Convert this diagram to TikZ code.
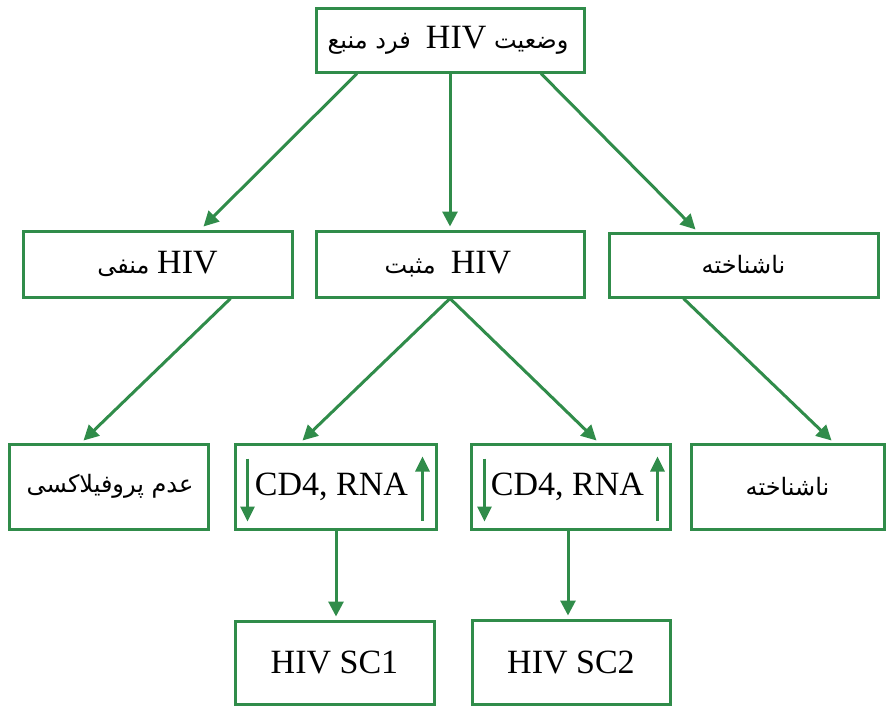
\documentclass[tikz,border=0pt]{standalone}
\usepackage{fontspec}
\setmainfont{Liberation Serif}
\newfontfamily\fa[Script=Arabic]{DejaVu Sans}
\TeXXeTstate=1
\usetikzlibrary{arrows.meta,calc}
\definecolor{gr}{RGB}{48,140,74}
\newcommand{\lat}[1]{{\rmfamily\fontsize{34}{37}\selectfont #1}}
\tikzset{
  box/.style={draw=gr,line width=3pt,minimum height=64pt,inner sep=0pt,font=\fontsize{34}{37}\selectfont},
  fabox/.style={box,font=\fa\fontsize{24}{28}\selectfont},
  conn/.style={draw=gr,line width=3pt,-{Triangle[length=15pt,width=15pt]}},
  small/.style={draw=gr,line width=3pt,-{Triangle[length=15pt,width=14pt]}}
}
\begin{document}
\begin{tikzpicture}[x=1pt,y=-1pt]
\useasboundingbox (0,0) rectangle (886,705);
\node[fabox,minimum width=268pt] (top) at (450,40) {\hspace*{-4pt}\beginR وضعیت \lat{HIV} \ فرد منبع\endR};
\node[fabox,minimum width=269pt,minimum height=66pt] (neg) at (157.5,264) {\beginR \lat{HIV} منفی\endR};
\node[fabox,minimum width=268pt,minimum height=66pt] (pos) at (450,264) {\hspace*{-4pt}\beginR \lat{HIV} \ مثبت\endR};
\node[fabox,minimum width=269pt] (unk) at (743.5,265) {\beginR ناشناخته\endR};
\node[fabox,minimum width=199pt,minimum height=85pt] (nop) at (108.5,486.5) {\hspace*{3pt}\beginR عدم پروفیلاکسی\endR};
\node[box,minimum width=201pt,minimum height=85pt] (c1) at (335.5,486.5) {\hspace*{-8pt}CD4, RNA};
\node[box,minimum width=199pt,minimum height=85pt] (c2) at (570.5,486.5) {\hspace*{-6pt}CD4, RNA};
\node[fabox,minimum width=193pt,minimum height=85pt] (unk2) at (787.5,486.5) {\beginR ناشناخته\endR};
\node[box,minimum width=199pt,minimum height=83pt] (sc1) at (334.5,662.5) {HIV SC1};
\node[box,minimum width=198pt,minimum height=84pt] (sc2) at (571,662) {HIV SC2};
% connectors
\draw[conn] ($(top.south)+(-93,0)$) -- ($(neg.north)+(46,-3)$);
\draw[conn] (top.south) -- ($(pos.north)+(0,-3)$);
\draw[conn] ($(top.south)+(91,0)$) -- ($(unk.north)+(-48,-2)$);
\draw[conn] ($(neg.south)+(73,0)$) -- ($(nop.north)+(-25,-2)$);
\draw[conn] (pos.south) -- ($(c1.north)+(-33,-2)$);
\draw[conn] (pos.south) -- ($(c2.north)+(26,-2)$);
\draw[conn] ($(unk.south)+(-60,0)$) -- ($(unk2.north)+(44,-2)$);
\draw[conn] ($(c1.south)+(0.5,0)$) -- ($(sc1.north)+(1.5,-3)$);
\draw[conn] ($(c2.south)+(-2.5,0)$) -- ($(sc2.north)+(-3,-3)$);
% small arrows inside boxes
\draw[small] ($(c1.west)+(14,-28)$) -- ($(c1.west)+(14,35)$);
\draw[small] ($(c1.east)+(-15,34)$) -- ($(c1.east)+(-15,-30)$);
\draw[small] ($(c2.west)+(15,-28)$) -- ($(c2.west)+(15,35)$);
\draw[small] ($(c2.east)+(-14,34)$) -- ($(c2.east)+(-14,-30)$);
\end{tikzpicture}
\end{document}
